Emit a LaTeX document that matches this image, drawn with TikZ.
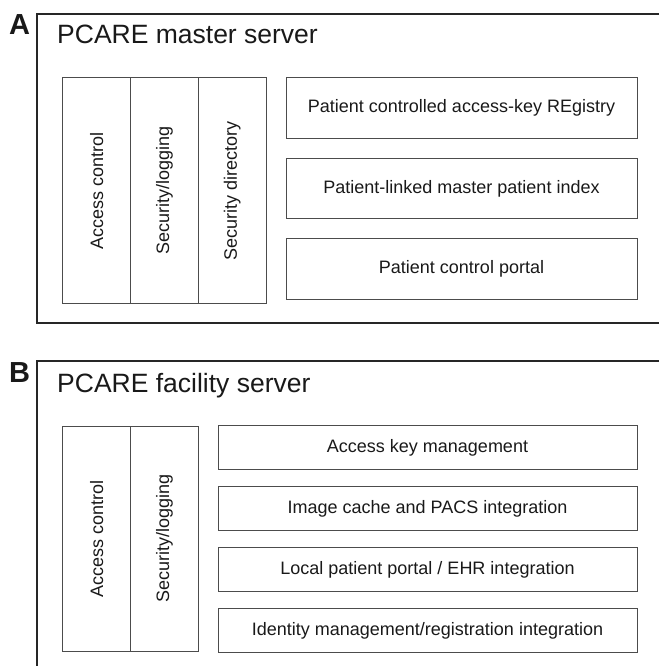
\documentclass[tikz,border=0pt]{standalone}
\usepackage{fontspec}
\setmainfont{Liberation Sans}
\usetikzlibrary{positioning}
\tikzset{
  frame/.style = {draw=black!85, line width=1.6pt},
  keybox/.style = {draw=black!70, line width=1pt, inner sep=0pt, align=center,
    font=\fontsize{18}{20}\selectfont, text=black!90},
  colbox/.style = {keybox, rotate=90, minimum width=225pt, minimum height=67.7pt},% rotated column
  servertitle/.style = {anchor=base west, inner sep=0pt,
    font=\fontsize{26.5}{30}\selectfont, text=black!90},
  panellabel/.style = {anchor=base west, inner sep=0pt,
    font=\bfseries\fontsize{29}{32}\selectfont, text=black!90},
}

\begin{document}
\begin{tikzpicture}[x=1pt,y=-1pt]
\path[use as bounding box] (0,0) rectangle (659,666);

% master server
\draw[frame] (659,14) -- (37,14) -- (37,323) -- (659,323);
\node [panellabel] (labA) at (9,35) {A};
\node [servertitle] (titleA) at (57,44) {PCARE master server};

\node [colbox] (accA) at (96.8,190.5) {Access control};
\node [colbox] (logA) at (164.5,190.5) {Security/logging};
\node [colbox] (dirA) at (232.2,190.5) {Security directory};

\node [keybox, minimum width=351pt, minimum height=60.5pt] (regA) at (461.5,108) {Patient controlled access-key REgistry};
\node [keybox, minimum width=351pt, minimum height=60.5pt, below=19pt of regA] (mpiA) {Patient-linked master patient index};
\node [keybox, minimum width=351pt, minimum height=60.5pt, below=19pt of mpiA] (portA) {Patient control portal};

% facility server
\draw[frame] (659,361) -- (37,361) -- (37,666);
\node [panellabel] (labB) at (9,382) {B};
\node [servertitle] (titleB) at (57,392) {PCARE facility server};

\node [colbox] (accB) at (96.8,538.5) {Access control};
\node [colbox] (logB) at (164.5,538.5) {Security/logging};

\node [keybox, minimum width=419pt, minimum height=43.5pt] (keyB) at (427.5,447.5) {Access key management};
\node [keybox, minimum width=419pt, minimum height=43.5pt, below=16.5pt of keyB] (pacsB) {Image cache and PACS integration};
\node [keybox, minimum width=419pt, minimum height=43.5pt, below=16.5pt of pacsB] (ehrB) {Local patient portal / EHR integration};
\node [keybox, minimum width=419pt, minimum height=43.5pt, below=16.5pt of ehrB] (idB) {Identity management/registration integration};
\end{tikzpicture}
\end{document}
